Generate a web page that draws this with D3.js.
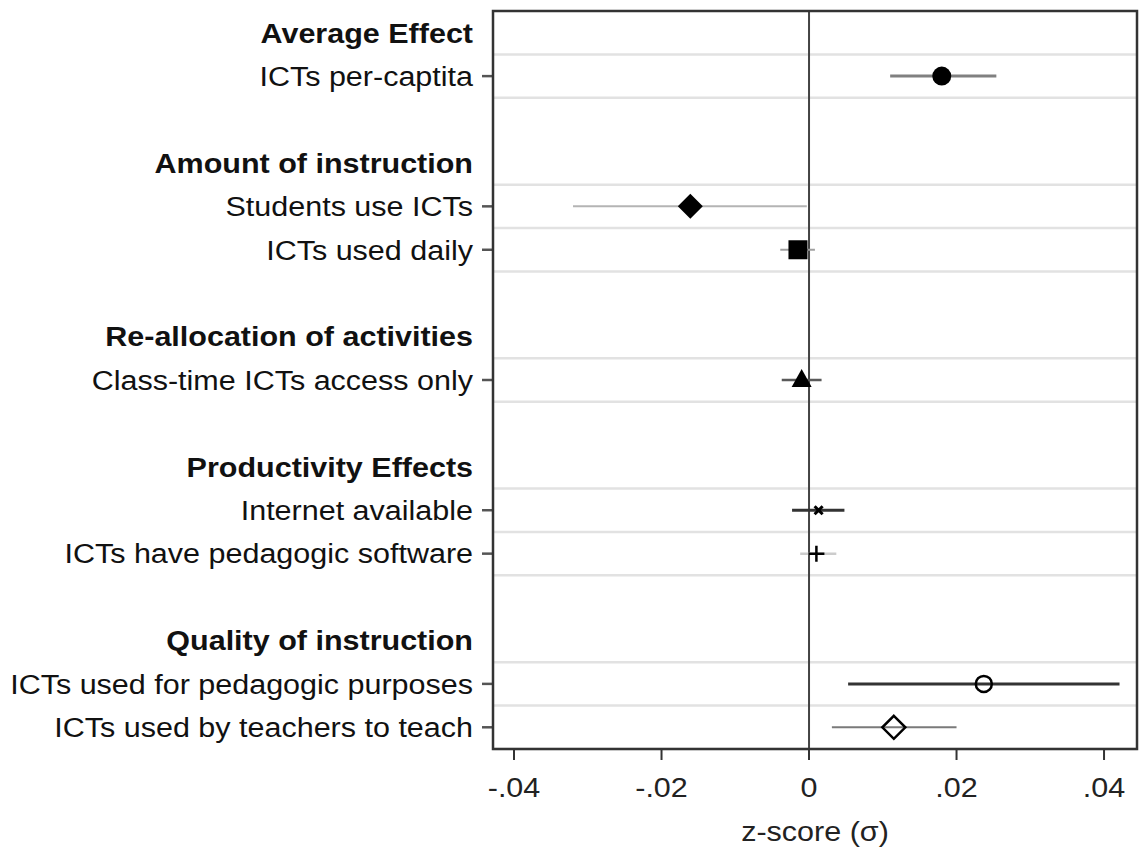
<!DOCTYPE html>
<html>
<head>
<meta charset="utf-8">
<script src="https://cdn.jsdelivr.net/npm/d3@7"></script>
<style>
  body { margin: 0; background: #fff; }
  text { font-family: "Liberation Sans", Arial, sans-serif; }
</style>
</head>
<body>
<svg id="chart"></svg>
<script>
// group headers and the coefficients that sit under each one
let groups = ["Average Effect", "Amount of instruction", "Re-allocation of activities",
              "Productivity Effects", "Quality of instruction"];
let labels = ["ICTs per-captita", "Students use ICTs", "ICTs used daily", "Class-time ICTs access only",
              "Internet available", "ICTs have pedagogic software", "ICTs used for pedagogic purposes",
              "ICTs used by teachers to teach"];
let groupOf = [0, 1, 1, 2, 3, 3, 4, 4];
let estimates = [0.0180, -0.0161, -0.0015, -0.0010, 0.0013, 0.0010, 0.0237, 0.0115];
let ciLow  = [0.0110, -0.0320, -0.0039, -0.0037, -0.0023, -0.0012, 0.0053, 0.0031];
let ciHigh = [0.0254, -0.0003, 0.0008, 0.0017, 0.0048, 0.0037, 0.0421, 0.0200];
let markerType = ["circle", "diamond", "square", "triangle", "x", "plus", "hollowCircle", "hollowDiamond"];
let xTicks = [-0.04, -0.02, 0, 0.02, 0.04];
let xTitle = "z-score (\u03c3)";

let width = 1143, height = 856;
let margin = ({top: 11, right: 6, bottom: 107, left: 493});
let stretch = 1.09;   // text in the original is a bit wider than plain Arial

let svg = d3.select("#chart").attr("width", width).attr("height", height);
svg.append("rect").attr("width", width).attr("height", height).attr("fill", "#fff");

// work out which row every header / coefficient goes on (blank row between groups)
let rows = [];
let rowOfLabel = [];
let r = 0;
groups.forEach(function(g, gi) {
  if (gi > 0) r++;
  rows.push({text: g, row: r, header: true});
  r++;
  labels.forEach(function(l, li) {
    if (groupOf[li] == gi) {
      rows.push({text: l, row: r, header: false});
      rowOfLabel[li] = r;
      r++;
    }
  });
});
let nRows = r;

let x = d3.scaleLinear()
  .domain([-0.04285, 0.04447])
  .range([margin.left, width - margin.right]);
let y = d3.scaleLinear()
  .domain([-0.5, nRows - 0.5])
  .range([margin.top, height - margin.bottom]);

// grid lines between coefficient rows
let gridRows = new Set();
rowOfLabel.forEach(function(rw) { gridRows.add(rw - 0.5); gridRows.add(rw + 0.5); });
svg.append("g").selectAll("line")
  .data(Array.from(gridRows))
  .enter().append("line")
  .attr("x1", x.range()[0]).attr("x2", x.range()[1])
  .attr("y1", d => y(d)).attr("y2", d => y(d))
  .attr("stroke", "#e2e2e2").attr("stroke-width", 2.5);

// zero reference line
svg.append("line")
  .attr("x1", x(0)).attr("x2", x(0))
  .attr("y1", y.range()[0]).attr("y2", y.range()[1])
  .attr("stroke", "#444").attr("stroke-width", 2);

// line style of each confidence interval, keyed by marker
let ciStyle = {
  circle: ["#808080", 3], diamond: ["#b4b4b4", 2], square: ["#a0a0a0", 2], triangle: ["#5a5a5a", 2.5],
  x: ["#333", 3], plus: ["#cccccc", 2.5], hollowCircle: ["#333", 3], hollowDiamond: ["#7a7a7a", 2]
};

let data = labels.map(function(l, i) {
  return {label: l, est: estimates[i], lo: ciLow[i], hi: ciHigh[i], row: rowOfLabel[i], m: markerType[i]};
});

svg.append("g").selectAll("line")
  .data(data)
  .enter().append("line")
  .attr("x1", d => x(d.lo)).attr("x2", d => x(d.hi))
  .attr("y1", d => y(d.row)).attr("y2", d => y(d.row))
  .attr("stroke", d => ciStyle[d.m][0])
  .attr("stroke-width", d => ciStyle[d.m][1]);

function markerPath(m) {
  let p = d3.path();
  if (m == "circle") { p.arc(0, 0, 9.5, 0, 2 * Math.PI); }
  else if (m == "hollowCircle") { p.arc(0, 0, 8, 0, 2 * Math.PI); }
  else if (m == "diamond" || m == "hollowDiamond") {
    let h = m == "diamond" ? 12.5 : 11.5;
    p.moveTo(0, -h); p.lineTo(h, 0); p.lineTo(0, h); p.lineTo(-h, 0); p.closePath();
  }
  else if (m == "square") { p.rect(-9.5, -9.5, 19, 19); }
  else if (m == "triangle") { p.moveTo(0, -11); p.lineTo(10, 7); p.lineTo(-10, 7); p.closePath(); }
  else if (m == "x") { p.moveTo(-4, -4); p.lineTo(4, 4); p.moveTo(-4, 4); p.lineTo(4, -4); }
  else if (m == "plus") { p.moveTo(-8, 0); p.lineTo(8, 0); p.moveTo(0, -8); p.lineTo(0, 8); }
  return p.toString();
}

svg.append("g").selectAll("path")
  .data(data)
  .enter().append("path")
  .attr("transform", d => "translate(" + x(d.est) + "," + y(d.row) + ")")
  .attr("d", d => markerPath(d.m))
  .attr("fill", d => (d.m.startsWith("hollow") || d.m == "x" || d.m == "plus") ? "none" : "#000")
  .attr("stroke", "#000")
  .attr("stroke-width", d => d.m == "x" ? 3 : (d.m.startsWith("hollow") || d.m == "plus") ? 2.5 : 0);

// y tick marks for coefficient rows
svg.append("g").selectAll("line")
  .data(data)
  .enter().append("line")
  .attr("x1", margin.left - 11).attr("x2", margin.left)
  .attr("y1", d => y(d.row)).attr("y2", d => y(d.row))
  .attr("stroke", "#555").attr("stroke-width", 2.5);

// row labels (headers bold)
svg.append("g").selectAll("text")
  .data(rows)
  .enter().append("text")
  .attr("transform", d => "translate(473," + y(d.row) + ") scale(" + stretch + ",1)")
  .attr("dy", "0.35em")
  .attr("text-anchor", "end")
  .style("font-size", "28px")
  .style("font-weight", d => d.header ? "bold" : "normal")
  .attr("fill", "#111")
  .text(d => d.text);

// plot frame
svg.append("rect")
  .attr("x", x.range()[0]).attr("y", y.range()[0])
  .attr("width", x.range()[1] - x.range()[0])
  .attr("height", y.range()[1] - y.range()[0])
  .attr("fill", "none").attr("stroke", "#333").attr("stroke-width", 2.5);

// x axis
let xAxis = svg.append("g")
  .attr("transform", "translate(0," + y.range()[1] + ")");
xAxis.selectAll("line")
  .data(xTicks)
  .enter().append("line")
  .attr("x1", d => x(d)).attr("x2", d => x(d))
  .attr("y1", 0).attr("y2", 11)
  .attr("stroke", "#333").attr("stroke-width", 2);
xAxis.selectAll("text")
  .data(xTicks)
  .enter().append("text")
  .attr("transform", d => "translate(" + x(d) + ",48) scale(" + stretch + ",1)")
  .attr("text-anchor", "middle")
  .style("font-size", "28px")
  .attr("fill", "#222")
  .text(d => d == 0 ? "0" : d3.format(".2f")(d).replace("\u2212", "-").replace("0.", "."));

svg.append("text")
  .attr("transform", "translate(" + ((x.range()[0] + x.range()[1]) / 2) + ",841) scale(" + stretch + ",1)")
  .attr("text-anchor", "middle")
  .style("font-size", "28px")
  .attr("fill", "#222")
  .text(xTitle);
</script>
</body>
</html>
